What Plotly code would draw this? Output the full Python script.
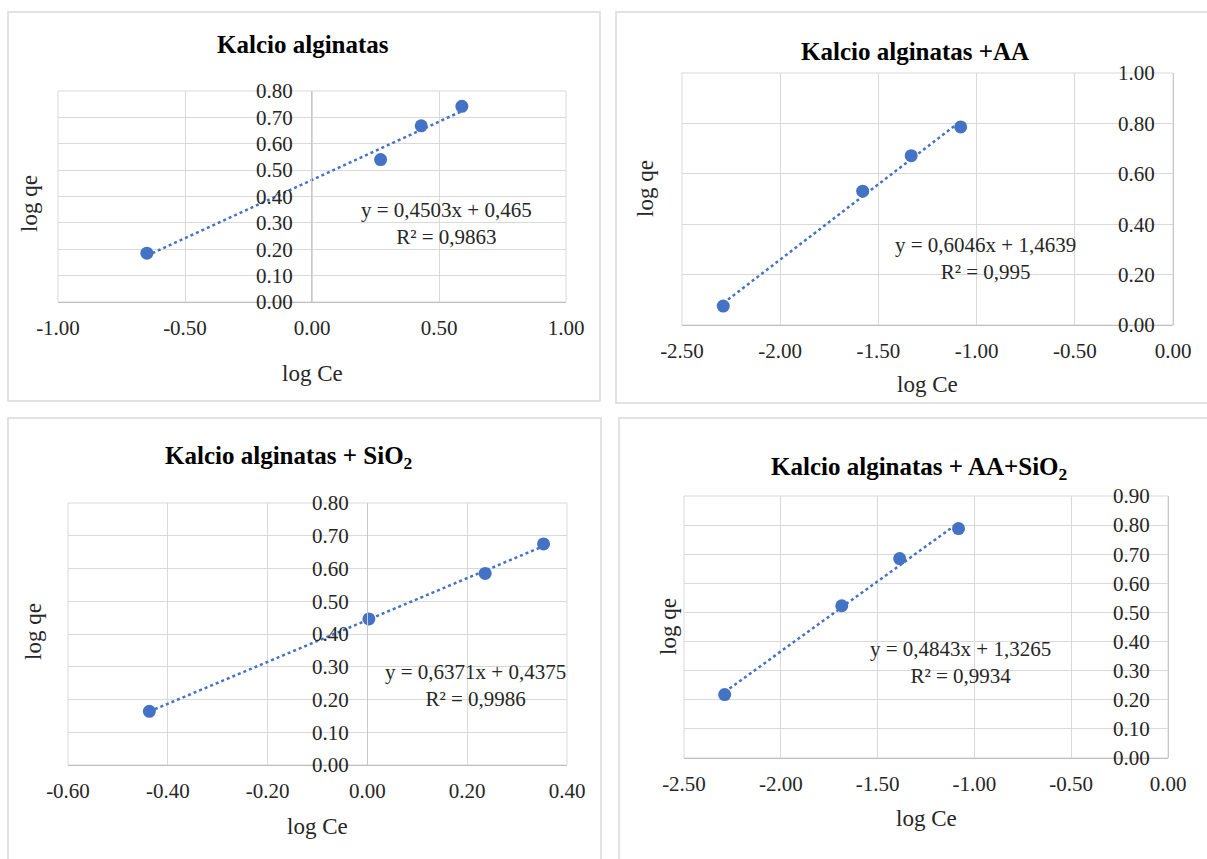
import numpy as np
import plotly.graph_objects as go

W, H = 1207, 859

# ---------------- data ----------------
titles = ["<b>Kalcio alginatas</b>", "<b>Kalcio alginatas +AA</b>",
          "<b>Kalcio alginatas + SiO<sub>2</sub></b>", "<b>Kalcio alginatas + AA+SiO<sub>2</sub></b>"]

ca_x = [-0.65, 0.27, 0.43, 0.59]
ca_y = [0.185, 0.54, 0.668, 0.742]

aa_x = [-2.29, -1.58, -1.333, -1.081]
aa_y = [0.075, 0.531, 0.672, 0.786]

si_x = [-0.437, 0.003, 0.236, 0.353]
si_y = [0.164, 0.446, 0.585, 0.675]

aasi_x = [-2.29, -1.685, -1.386, -1.082]
aasi_y = [0.218, 0.523, 0.685, 0.788]

equations = ["y = 0,4503x + 0,465<br>R² = 0,9863",
             "y = 0,6046x + 1,4639<br>R² = 0,995",
             "y = 0,6371x + 0,4375<br>R² = 0,9986",
             "y = 0,4843x + 1,3265<br>R² = 0,9934"]

x_ticks = [[-1.0, -0.5, 0.0, 0.5, 1.0],
           [-2.5, -2.0, -1.5, -1.0, -0.5, 0.0],
           [-0.6, -0.4, -0.2, 0.0, 0.2, 0.4],
           [-2.5, -2.0, -1.5, -1.0, -0.5, 0.0]]
y_ticks = [[0.0, 0.1, 0.2, 0.3, 0.4, 0.5, 0.6, 0.7, 0.8],
           [0.0, 0.2, 0.4, 0.6, 0.8, 1.0],
           [0.0, 0.1, 0.2, 0.3, 0.4, 0.5, 0.6, 0.7, 0.8],
           [0.0, 0.1, 0.2, 0.3, 0.4, 0.5, 0.6, 0.7, 0.8, 0.9]]

series = [(ca_x, ca_y), (aa_x, aa_y), (si_x, si_y), (aasi_x, aasi_y)]

# ---------------- layout (pixels) ----------------
plots = [
    dict(l=58, r=566, t=91, b=302, yax=311),
    dict(l=682, r=1173, t=73, b=325, yax=1173),
    dict(l=68, r=567, t=503, b=765, yax=367),
    dict(l=684, r=1168, t=496, b=758, yax=1168),
]
panels = [(8, 12, 600, 401), (616, 12, 1212, 403), (8, 418, 601, 870), (619, 418, 1212, 870)]
title_pos = [(303, 45), (915, 52), (288, 457), (919, 468)]
xtitle_pos = [(312, 373), (927, 385), (317, 826), (926, 818)]
ytitle_pos = [(29, 204), (645, 189), (33, 632), (668, 627)]
eq_pos = [(446, 224), (985, 258), (476, 685), (960, 662)]

BLUE = "#4472C4"
FONT = "Liberation Serif"
GRID = "#D9D9D9"
XAXL = "#BFBFBF"
YAXL = "#C8C8C8"


def px(x):
    return x / W


def py(y):
    return 1 - y / H


fig = go.Figure()
layout = {}
annotations = []
shapes = []

for i, ((xs, ys), p) in enumerate(zip(series, plots)):
    n = i + 1
    xa = "x" if n == 1 else f"x{n}"
    ya = "y" if n == 1 else f"y{n}"
    k, b0 = np.polyfit(xs, ys, 1)
    xl = np.array([min(xs), max(xs)])
    fig.add_trace(go.Scatter(x=xl, y=k * xl + b0, mode="lines", xaxis=xa, yaxis=ya,
                             line=dict(color=BLUE, width=2.5, dash="dot"),
                             showlegend=False, hoverinfo="skip"))
    fig.add_trace(go.Scatter(x=xs, y=ys, mode="markers", xaxis=xa, yaxis=ya,
                             marker=dict(color=BLUE, size=13),
                             showlegend=False))
    xt = x_ticks[i]
    yt = y_ticks[i]
    layout["xaxis" if n == 1 else f"xaxis{n}"] = dict(
        domain=[px(p["l"]), px(p["r"])], range=[xt[0], xt[-1]], anchor=ya,
        tickvals=xt, ticktext=[f"{v:.2f}" for v in xt],
        showgrid=True, gridcolor=GRID, gridwidth=1, zeroline=False,
        showline=True, linecolor=XAXL, linewidth=1.3, ticks="",
        ticklabelstandoff=7, automargin=False,
        tickfont=dict(family=FONT, size=21, color="#262626"), fixedrange=True)
    layout["yaxis" if n == 1 else f"yaxis{n}"] = dict(
        domain=[py(p["b"]), py(p["t"])], range=[yt[0], yt[-1]], anchor="free",
        position=px(p["yax"]), side="left",
        tickvals=yt, ticktext=[f"{v:.2f}" for v in yt],
        showgrid=True, gridcolor=GRID, gridwidth=1, zeroline=False,
        showline=True, linecolor=YAXL, linewidth=1.2, ticks="",
        ticklabelstandoff=14, automargin=False,
        tickfont=dict(family=FONT, size=21, color="#262626"), fixedrange=True)

    shapes.append(dict(type="rect", xref=f"{xa} domain", yref=f"{ya} domain",
                       x0=0, x1=1, y0=0, y1=1,
                       line=dict(color=GRID, width=1), fillcolor="rgba(0,0,0,0)",
                       layer="below"))

    annotations.append(dict(text=titles[i], x=px(title_pos[i][0]), y=py(title_pos[i][1]),
                            xref="paper", yref="paper", showarrow=False,
                            xanchor="center", yanchor="middle",
                            font=dict(family=FONT, size=25, color="#000000")))
    annotations.append(dict(text="log Ce", x=px(xtitle_pos[i][0]), y=py(xtitle_pos[i][1]),
                            xref="paper", yref="paper", showarrow=False,
                            xanchor="center", yanchor="middle",
                            font=dict(family=FONT, size=23, color="#262626")))
    annotations.append(dict(text="log qe", x=px(ytitle_pos[i][0]), y=py(ytitle_pos[i][1]),
                            xref="paper", yref="paper", showarrow=False, textangle=-90,
                            xanchor="center", yanchor="middle",
                            font=dict(family=FONT, size=23, color="#262626")))
    annotations.append(dict(text=equations[i], x=px(eq_pos[i][0]), y=py(eq_pos[i][1]),
                            xref="paper", yref="paper", showarrow=False, align="center",
                            xanchor="center", yanchor="middle",
                            font=dict(family=FONT, size=21, color="#262626")))

for (x0, y0, x1, y1) in panels:
    shapes.append(dict(type="rect", xref="paper", yref="paper",
                       x0=px(x0), x1=px(x1), y0=py(y1), y1=py(y0),
                       line=dict(color="#D9D9D9", width=1.5), fillcolor="rgba(0,0,0,0)",
                       layer="below"))

fig.update_layout(width=W, height=H, margin=dict(l=0, r=0, t=0, b=0, autoexpand=False),
                  paper_bgcolor="white", plot_bgcolor="white",
                  annotations=annotations, shapes=shapes, showlegend=False,
                  **layout)

fig.write_html("out.html", config={"displayModeBar": False},
               post_script="document.body.style.margin='0px';document.body.style.overflow='hidden';")
